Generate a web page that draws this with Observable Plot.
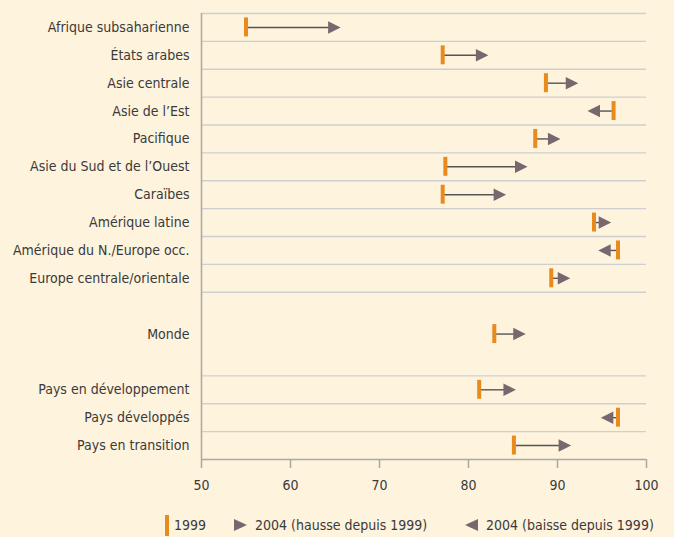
<!DOCTYPE html>
<html>
<head>
<meta charset="utf-8">
<script src="https://cdn.jsdelivr.net/npm/d3@7"></script>
<script src="https://cdn.jsdelivr.net/npm/@observablehq/plot@0.6"></script>
<style>
  html, body { margin: 0; padding: 0; background: #fef3dd; }
  body { width: 674px; height: 537px; overflow: hidden; font-family: "Liberation Sans Narrow", "DejaVu Sans Condensed", sans-serif; color: #3a3a3a; }
  #legend { position: relative; height: 35px; font-size: 14px; }
  #legend .item { position: absolute; top: 13px; display: flex; align-items: center; height: 20px; }
  #legend .bar { display: inline-block; width: 4px; height: 21px; background: #e88a1e; margin-right: 5px; }
  #legend svg { margin-right: 8px; }
</style>
</head>
<body>
<div id="chart"></div>
<div id="legend">
  <div class="item" style="left:165px"><span class="bar"></span><span>1999</span></div>
  <div class="item" style="left:234px"><svg width="13" height="12"><path d="M13,6L0,0L0,12Z" fill="#776870"/></svg><span>2004 (hausse depuis 1999)</span></div>
  <div class="item" style="left:465px"><svg width="13" height="12"><path d="M0,6L13,0L13,12Z" fill="#776870"/></svg><span>2004 (baisse depuis 1999)</span></div>
</div>
<script>
// ---- data ----
const regions = [
  "Afrique subsaharienne", "États arabes", "Asie centrale", "Asie de l’Est", "Pacifique",
  "Asie du Sud et de l’Ouest", "Caraïbes", "Amérique latine", "Amérique du N./Europe occ.",
  "Europe centrale/orientale"
];
const regions1999 = [55.0, 77.1, 88.7, 96.3, 87.5, 77.4, 77.1, 94.1, 96.8, 89.3];
const regions2004 = [64.9, 81.5, 91.6, 94.1, 89.6, 85.9, 83.5, 95.3, 95.3, 90.7];

const world = ["Monde"];
const world1999 = [82.9];
const world2004 = [85.7];

const groups = ["Pays en développement", "Pays développés", "Pays en transition"];
const groups1999 = [81.2, 96.8, 85.1];
const groups2004 = [84.6, 95.6, 90.8];

const xTicks = [50, 60, 70, 80, 90, 100];

// ---- layout rows (regions, gap, world, gap, groups) ----
const rows = [];
regions.forEach((name, i) => rows.push({name, row: i, v1999: regions1999[i], v2004: regions2004[i]}));
const worldRow = regions.length + 1;
world.forEach((name, i) => rows.push({name, row: worldRow + i, v1999: world1999[i], v2004: world2004[i]}));
const groupStart = worldRow + world.length + 1;
groups.forEach((name, i) => rows.push({name, row: groupStart + i, v1999: groups1999[i], v2004: groups2004[i]}));
const lastRow = groupStart + groups.length - 1;

const boundaries = [];
for (let i = 0; i <= regions.length; i++) boundaries.push(i - 0.5);
for (let i = 0; i < groups.length; i++) boundaries.push(groupStart + i - 0.5);

const labelOf = new Map(rows.map(d => [d.row, d.name]));

const orange = "#e88a1e";
const mauve = "#776870";

const arrowRight = {draw(ctx) { ctx.moveTo(6.5, 0); ctx.lineTo(-6, -6.2); ctx.lineTo(-6, 6.2); ctx.closePath(); }};
const arrowLeft = {draw(ctx) { ctx.moveTo(-6.5, 0); ctx.lineTo(6, -6.2); ctx.lineTo(6, 6.2); ctx.closePath(); }};

const chart = Plot.plot({
  width: 674,
  height: 502,
  marginLeft: 201,
  marginRight: 28,
  marginTop: 13,
  marginBottom: 43,
  style: {background: "transparent", fontFamily: "'Liberation Sans Narrow', 'DejaVu Sans Condensed', sans-serif", fontSize: "14px", color: "#3a3a3a"},
  x: {domain: [50, 100]},
  y: {domain: [-0.5, lastRow + 0.5], reverse: true},
  marks: [
    Plot.ruleY(boundaries, {x1: 50, x2: 100, stroke: "#cfcfcf", strokeWidth: 1.4}),
    Plot.ruleY([lastRow + 0.5], {x1: 50, x2: 100, stroke: "#a8a8a8", strokeWidth: 1.5}),
    Plot.ruleX([50], {y1: -0.5, y2: lastRow + 0.5, stroke: "#a8a8a8", strokeWidth: 1.5}),
    Plot.axisX({ticks: xTicks, tickSize: 9, tickPadding: 12, stroke: "#a8a8a8", strokeWidth: 1.5, fill: "#3a3a3a", fontSize: 14, label: null}),
    Plot.axisY({ticks: rows.map(d => d.row), tickFormat: r => labelOf.get(r), tickSize: 0, tickPadding: 12, fill: "#3a3a3a", fontSize: 14, label: null}),
    Plot.link(rows, {x1: "v1999", x2: "v2004", y1: "row", y2: "row", stroke: "#555", strokeWidth: 1.4}),
    Plot.ruleX(rows, {x: "v1999", y1: d => d.row - 0.34, y2: d => d.row + 0.34, stroke: orange, strokeWidth: 4}),
    Plot.dot(rows.filter(d => d.v2004 >= d.v1999), {x: "v2004", y: "row", symbol: arrowRight, fill: mauve, stroke: "none"}),
    Plot.dot(rows.filter(d => d.v2004 < d.v1999), {x: "v2004", y: "row", symbol: arrowLeft, fill: mauve, stroke: "none"})
  ]
});
document.getElementById("chart").appendChild(chart);
</script>
</body>
</html>
